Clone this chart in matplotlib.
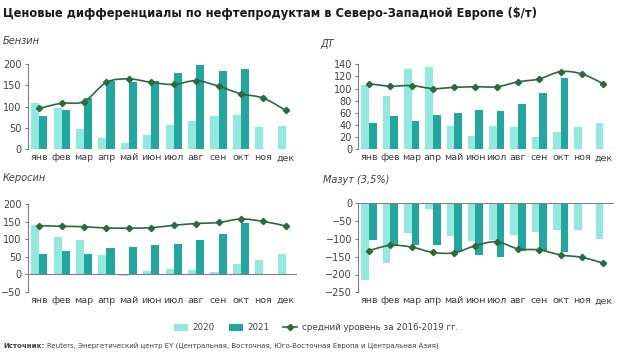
import matplotlib
matplotlib.use("Agg")
import matplotlib.pyplot as plt
import numpy as np
from matplotlib.path import Path
from matplotlib.patches import PathPatch, Patch
from matplotlib.lines import Line2D

months = ["янв", "фев", "мар", "апр", "май", "июн", "июл", "авг", "сен", "окт", "ноя", "дек"]

# Бензин
gas_2020 = [109, 98, 48, 27, 14, 33, 58, 66, 79, 80, 53, 54]
gas_2021 = [77, 93, 121, 160, 158, 159, 178, 198, 184, 188, None, None]
gas_avg = [96, 108, 112, 157, 165, 157, 152, 161, 148, 130, 120, 91]

# ДТ
diesel_2020 = [106, 87, 132, 136, 39, 22, 39, 37, 20, 29, 36, 44]
diesel_2021 = [43, 55, 46, 57, 60, 65, 63, 74, 93, 117, None, None]
diesel_avg = [108, 104, 105, 100, 102, 103, 103, 111, 116, 128, 124, 108]

# Керосин
jet_2020 = [142, 106, 99, 54, -5, 8, 16, 12, 5, 28, 42, 57]
jet_2021 = [59, 65, 58, 74, 77, 83, 87, 97, 115, 146, None, None]
jet_avg = [139, 137, 136, 132, 132, 133, 140, 145, 148, 158, 151, 138]

# Мазут (3,5%)
fo_2020 = [-215, -167, -83, -17, -92, -106, -102, -90, -81, -75, -75, -101]
fo_2021 = [-103, -118, -116, -118, -136, -144, -150, -135, -135, -136, None, None]
fo_avg = [-133, -118, -123, -138, -139, -119, -108, -128, -131, -145, -152, -168]

C2020 = "#93e9e0"
C2021 = "#22a69d"
CLINE = "#2d6a3c"
CAXIS = "#808080"
CTEXT = "#404040"

W, H = 620, 364
fig = plt.figure(figsize=(W / 100, H / 100), dpi=100)


def px(x, y):
    """Pixel position (from top-left) to figure fraction."""
    return x / W, 1 - y / H


def rect(x0, x1, ytop, ybot):
    return [x0 / W, 1 - ybot / H, (x1 - x0) / W, (ybot - ytop) / H]


def smooth_line(ax, y):
    """Draw an Excel-like smoothed line through the points."""
    x = np.arange(len(y), dtype=float)
    y = np.asarray(y, dtype=float)
    verts = [(x[0], y[0])]
    codes = [Path.MOVETO]
    n = len(x)
    for i in range(n - 1):
        p0 = (x[max(i - 1, 0)], y[max(i - 1, 0)])
        p1 = (x[i], y[i])
        p2 = (x[i + 1], y[i + 1])
        p3 = (x[min(i + 2, n - 1)], y[min(i + 2, n - 1)])
        c1 = (p1[0] + (p2[0] - p0[0]) / 6, p1[1] + (p2[1] - p0[1]) / 6)
        c2 = (p2[0] - (p3[0] - p1[0]) / 6, p2[1] - (p3[1] - p1[1]) / 6)
        verts += [c1, c2, p2]
        codes += [Path.CURVE4] * 3
    ax.add_patch(PathPatch(Path(verts, codes), fill=False, edgecolor=CLINE,
                           lw=1.2, zorder=4, clip_on=False))
    ax.plot(x, y, linestyle="none", marker="D", markersize=3.2,
            color=CLINE, zorder=5, clip_on=False)


def panel(r, v2020, v2021, avg, ylim, yticks):
    ax = fig.add_axes(r)
    x = np.arange(12)
    bw = 0.36
    a = [np.nan if v is None else v for v in v2020]
    b = [np.nan if v is None else v for v in v2021]
    ax.bar(x - bw / 2, a, width=bw, color=C2020, zorder=2)
    ax.bar(x + bw / 2, b, width=bw, color=C2021, zorder=3)
    smooth_line(ax, avg)
    ax.set_xlim(-0.5, 11.5)
    ax.set_ylim(*ylim)
    ax.set_yticks(yticks)
    ax.set_xticks(x)
    ax.set_xticklabels(months)
    for s in ["top", "right", "bottom"]:
        ax.spines[s].set_visible(False)
    ax.spines["left"].set_color(CAXIS)
    ax.spines["left"].set_linewidth(0.8)
    ax.axhline(0, color=CAXIS, lw=0.8, zorder=6)
    ax.tick_params(axis="y", length=2, width=0.8, color=CAXIS, pad=2.5,
                   labelsize=7, labelcolor=CTEXT)
    ax.tick_params(axis="x", length=0, pad=3, labelsize=6.8, labelcolor=CTEXT)
    ax.set_facecolor("none")
    return ax


panel(rect(28, 297, 64, 149.3), gas_2020, gas_2021, gas_avg,
      (0, 200), [0, 50, 100, 150, 200])
panel(rect(358.3, 614, 64.3, 149.3), diesel_2020, diesel_2021, diesel_avg,
      (0, 140), list(range(0, 141, 20)))
panel(rect(28, 297, 204.3, 291.7), jet_2020, jet_2021, jet_avg,
      (-50, 200), [-50, 0, 50, 100, 150, 200])
panel(rect(358.3, 614, 203.3, 292.3), fo_2020, fo_2021, fo_avg,
      (-250, 0), list(range(-250, 1, 50)))

# title
fig.text(*px(3, 13), "Ценовые дифференциалы по нефтепродуктам в Северо-Западной Европе ($/т)",
         ha="left", va="center", fontsize=8.3, fontweight="bold", color="#1a1a1a")

# panel titles
fig.text(*px(3, 41), "Бензин", ha="left", va="center", fontsize=7,
         style="italic", color=CTEXT)
fig.text(*px(320, 44), "ДТ", ha="left", va="center", fontsize=7,
         style="italic", color=CTEXT)
fig.text(*px(3, 178), "Керосин", ha="left", va="center", fontsize=7,
         style="italic", color=CTEXT)
fig.text(*px(323, 180), "Мазут (3,5%)", ha="left", va="center", fontsize=7,
         style="italic", color=CTEXT)

# legend
handles = [
    Patch(facecolor=C2020, label="2020"),
    Patch(facecolor=C2021, label="2021"),
    Line2D([], [], color=CLINE, lw=1.2, marker="D", markersize=3.2,
           label="средний уровень за 2016-2019 гг."),
]
fig.legend(handles=handles, loc="center", bbox_to_anchor=px(316, 328),
           ncol=3, frameon=False, fontsize=6.3, handlelength=1.6,
           handleheight=1.0, handletextpad=0.5, columnspacing=1.6,
           labelcolor=CTEXT)

# source: bold lead-in, then the rest placed right after it
src_bold = fig.text(*px(3, 346), "Источник:", ha="left", va="center", fontsize=5,
                    fontweight="bold", color=CTEXT)
renderer = fig.canvas.get_renderer()
bb = src_bold.get_window_extent(renderer)
fig.text(bb.x1 / W + 3 / W, px(0, 346)[1],
         "Reuters, Энергетический центр EY (Центральная, Восточная, "
         "Юго-Восточная Европа и Центральная Азия)",
         ha="left", va="center", fontsize=5, color=CTEXT)

fig.savefig("out.png", dpi=100)
